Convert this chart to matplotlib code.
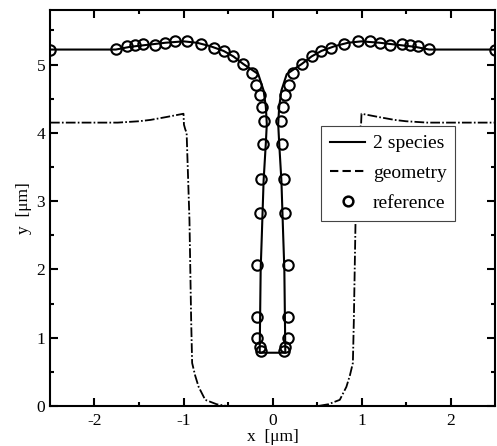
import matplotlib
matplotlib.use("Agg")
import matplotlib.pyplot as plt
from matplotlib.lines import Line2D

plt.rcParams['font.family'] = ['Liberation Serif', 'DejaVu Serif']
plt.rcParams['axes.unicode_minus'] = False
plt.rcParams['lines.scale_dashes'] = False

# 2 species profile
sp_x = [-2.5, -1.76, -1.6, -1.4, -1.2, -1.0, -0.85, -0.7, -0.55, -0.44, -0.33, -0.25,
        -0.16, -0.10, -0.075, -0.064, -0.075, -0.10, -0.12, -0.133, -0.144,
        0.144, 0.133, 0.12, 0.10, 0.075, 0.064, 0.075, 0.10, 0.16, 0.25, 0.33,
        0.44, 0.55, 0.7, 0.85, 1.0, 1.2, 1.4, 1.6, 1.76, 2.5]
sp_y = [5.22, 5.22, 5.26, 5.29, 5.32, 5.34, 5.32, 5.27, 5.20, 5.12, 5.01, 4.94,
        4.86, 4.62, 4.38, 4.13, 3.85, 3.3, 2.5, 2.0, 0.78,
        0.78, 2.0, 2.5, 3.3, 3.85, 4.13, 4.38, 4.62, 4.86, 4.94, 5.01,
        5.12, 5.20, 5.27, 5.32, 5.34, 5.32, 5.29, 5.26, 5.22, 5.22]

# geometry profile
geo_x = [-2.5, -1.74, -1.5, -1.37, -1.2, -1.0, -0.995, -0.98, -0.965, -0.95, -0.933,
         -0.914, -0.903, -0.87, -0.83, -0.756, -0.626, -0.514, 0.0,
         0.514, 0.626, 0.756, 0.83, 0.87, 0.903, 0.914, 0.933, 0.95, 0.965, 0.98,
         0.995, 1.0, 1.2, 1.37, 1.5, 1.74, 2.5]
geo_y = [4.15, 4.15, 4.17, 4.19, 4.23, 4.28, 4.12, 4.05, 4.0, 3.4, 2.72,
         1.26, 0.63, 0.45, 0.28, 0.09, 0.025, 0.0, 0.0,
         0.0, 0.025, 0.09, 0.28, 0.45, 0.63, 1.26, 2.72, 3.4, 4.0, 4.05,
         4.12, 4.28, 4.23, 4.19, 4.17, 4.15, 4.15]

# reference points
ref_x = [-2.5, -1.76, -1.64, -1.55, -1.45, -1.32, -1.21, -1.10, -0.96, -0.80, -0.66,
         -0.54, -0.44, -0.33, -0.23, -0.185, -0.14, -0.115, -0.095, -0.105, -0.125,
         -0.142, -0.17, -0.17, -0.17, -0.14, -0.125,
         0.125, 0.14, 0.17, 0.17, 0.17, 0.142, 0.125, 0.105, 0.095, 0.115, 0.14,
         0.185, 0.23, 0.33, 0.44, 0.54, 0.66, 0.80, 0.96, 1.10, 1.21, 1.32, 1.45,
         1.55, 1.64, 1.76, 2.5]
ref_y = [5.22, 5.23, 5.27, 5.29, 5.30, 5.29, 5.32, 5.34, 5.35, 5.30, 5.25,
         5.20, 5.12, 5.01, 4.88, 4.70, 4.55, 4.38, 4.18, 3.84, 3.33,
         2.82, 2.06, 1.31, 1.00, 0.86, 0.81,
         0.81, 0.86, 1.00, 1.31, 2.06, 2.82, 3.33, 3.84, 4.18, 4.38, 4.55,
         4.70, 4.88, 5.01, 5.12, 5.20, 5.25, 5.30, 5.35, 5.34, 5.32, 5.29, 5.30,
         5.29, 5.27, 5.23, 5.22]

fig = plt.figure(figsize=(4.97, 4.46), dpi=100)
ax = fig.add_axes([0.1006, 0.0897, 0.8954, 0.888])

ax.plot(sp_x, sp_y, color='black', lw=1.5)
ax.plot(geo_x, geo_y, color='black', lw=1.3, dashes=(7, 1.6, 1.2, 1.6))
ax.plot(ref_x, ref_y, linestyle='none', marker='o', ms=7.5, mfc='none',
        mec='black', mew=1.5)

ax.set_xlim(-2.5, 2.5)
ax.set_ylim(0, 5.8)
ax.set_xticks([-2, -1, 0, 1, 2])
ax.set_xticks([-1.5, -0.5, 0.5, 1.5], minor=True)
ax.set_yticks([0, 1, 2, 3, 4, 5])
ax.set_yticks([0.5, 1.5, 2.5, 3.5, 4.5, 5.5], minor=True)
ax.tick_params(which='both', direction='in', top=True, right=True,
               labelsize=12.5, width=1.5)
ax.tick_params(which='major', length=6)
ax.tick_params(axis='x', which='major', pad=5)
ax.tick_params(axis='y', which='major', pad=3.5)
ax.tick_params(which='minor', length=3)
for s in ax.spines.values():
    s.set_linewidth(1.5)

ax.set_xlabel('x  [\u03bcm]', fontsize=12.5, labelpad=0)
ax.set_ylabel('y  [\u03bcm]', fontsize=12.5, labelpad=3)

handles = [Line2D([], [], color='black', lw=1.5),
           Line2D([], [], color='black', lw=1.5, dashes=(6, 3)),
           Line2D([], [], linestyle='none', marker='o', ms=7, mfc='none',
                  mec='black', mew=1.8)]
leg = ax.legend(handles, ['2 species', 'geometry', 'reference'],
                loc='upper left', bbox_to_anchor=(0.61, 0.707),
                fontsize=14, frameon=True, fancybox=False, framealpha=1,
                edgecolor='#444444', handlelength=1.8, handletextpad=0.4,
                labelspacing=0.63, borderpad=0.45, borderaxespad=0)
leg.get_frame().set_linewidth(0.8)

fig.savefig('out.png', dpi=100)
